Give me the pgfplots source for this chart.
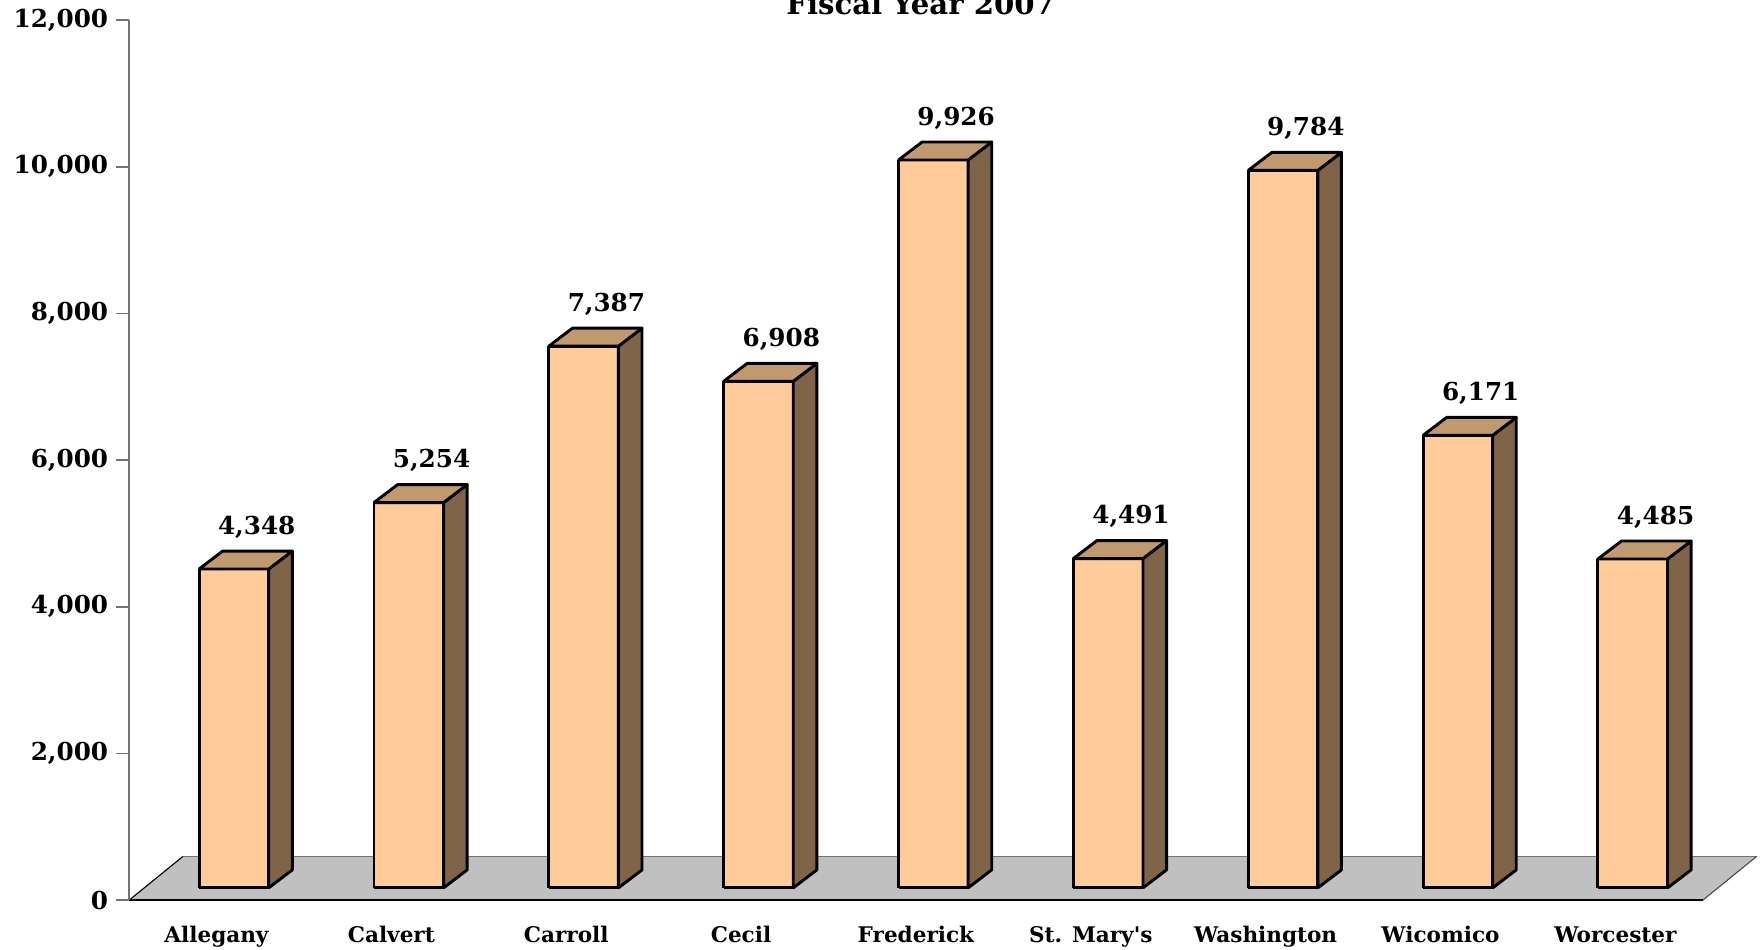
\documentclass[border=0pt]{standalone}
\usepackage{fontspec}
\setmainfont{DejaVu Serif}
\usepackage{pgfplots}
\usepackage{pgfplotstable}
\pgfplotsset{compat=1.18}
\definecolor{barfront}{RGB}{255,204,153}
\definecolor{bartop}{RGB}{193,153,110}
\definecolor{barside}{RGB}{128,100,72}
\definecolor{floorc}{RGB}{192,192,192}
\pgfplotstableread{
idx v
0 4348
1 5254
2 7387
3 6908
4 9926
5 4491
6 9784
7 6171
8 4485
}\data
\newcommand\numfont{\fontsize{11}{13}\selectfont\bfseries}
\newcommand\catfont{\fontsize{9.6}{11}\selectfont\bfseries}
\newcommand\straightq{\XeTeXglyph\XeTeXcharglyph"27\relax}
\begin{document}
\begin{tikzpicture}
\begin{axis}[
  at={(0,0)}, anchor=south west,
  scale only axis, width=701pt, height=392pt,
  xmin=-0.5, xmax=8.5, ymin=0, ymax=12000,
  clip=false, axis on top,
  axis lines*=left,
  x axis line style={black, line width=0.8pt},
  y axis line style={gray!90!black, line width=0.8pt},
  xtick={0,...,8},
  xticklabels={Allegany,Calvert,Carroll,Cecil,Frederick,{St. Mary\straightq s},Washington,Wicomico,Worcester},
  xtick style={draw=none},
  minor xtick={-0.5,0.5,...,8.5},
  minor x tick style={gray!90!black, line width=0.8pt},
  minor tick length=6.5pt,
  ytick={0,2000,...,12000},
  ytick style={gray!90!black, line width=0.8pt},
  major tick length=5.8pt,
  tick align=outside,
  scaled y ticks=false,
  /pgf/number format/assume math mode=true,
  yticklabel style={font=\numfont, /pgf/number format/.cd, fixed, precision=0, set thousands separator={,}},
  xticklabel style={font=\catfont, anchor=base, yshift=-13pt},
  every axis title shift=0pt,
  title={Fiscal Year 2007},
  title style={at={(0.503,1)}, anchor=base, yshift=2.75pt, inner sep=0pt, font=\fontsize{13}{15}\selectfont\bfseries},
]
% floor
\addplot[fill=floorc, draw=none] coordinates {(-0.5,0) (8.5,0) (8.808,597) (-0.192,597) (-0.5,0)};
\addplot[draw=gray!90!black, line width=0.8pt] coordinates {(-0.192,597) (8.808,597)};
\addplot[draw=black, line width=0.5pt] coordinates {(-0.5,0) (-0.192,597)};
\addplot[draw=black!70, line width=0.5pt] coordinates {(8.5,0) (8.808,597)};
% bars
\pgfplotsinvokeforeach{0,...,8}{
  \pgfplotstablegetelem{#1}{v}\of\data
  \pgfmathsetmacro\xl{#1-0.0995}
  \pgfmathsetmacro\xr{#1+0.2985}
  \pgfmathsetmacro\xrd{#1+0.2985+0.135}
  \pgfmathsetmacro\xld{#1-0.0995+0.135}
  \pgfmathsetmacro\yt{168+\pgfplotsretval}
  \pgfmathsetmacro\ytd{168+245+\pgfplotsretval}
  \edef\tmp{%
    \noexpand\addplot[fill=barfront, draw=black, line width=1.3pt, line join=round] coordinates {(\xl,168) (\xr,168) (\xr,\yt) (\xl,\yt) (\xl,168)};
    \noexpand\addplot[fill=barside, draw=black, line width=1.3pt, line join=round] coordinates {(\xr,168) (\xrd,413) (\xrd,\ytd) (\xr,\yt) (\xr,168)};
    \noexpand\addplot[fill=bartop, draw=black, line width=1.3pt, line join=round] coordinates {(\xl,\yt) (\xr,\yt) (\xrd,\ytd) (\xld,\ytd) (\xl,\yt)};
  }\tmp
}
% value labels
\addplot[draw=none, mark=none, point meta=explicit,
  nodes near coords={\pgfmathprintnumber[fixed, precision=0, set thousands separator={,}, assume math mode=true]{\pgfplotspointmeta}},
  nodes near coords style={anchor=base, inner sep=0pt, font=\numfont, text=black}]
  table[x expr=\thisrow{idx}+0.23, y expr=\thisrow{v}+642, meta=v] {\data};
\end{axis}
\pgfresetboundingbox
\useasboundingbox (-57.5pt,-22pt) rectangle (726.5pt,401pt);
\end{tikzpicture}
\end{document}
